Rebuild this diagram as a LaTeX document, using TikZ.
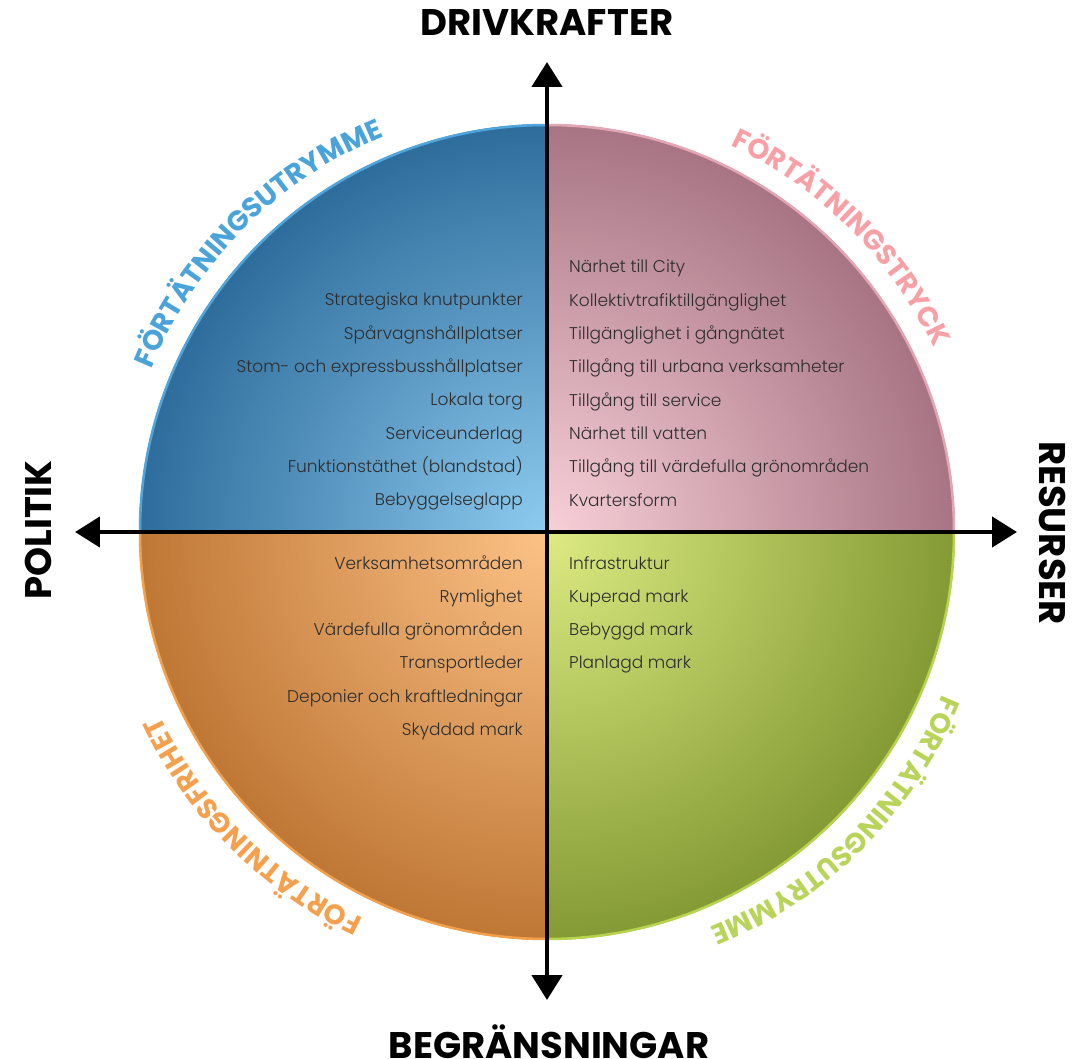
\documentclass[tikz,border=0pt]{standalone}
\usepackage{fontspec}
\setmainfont{Poppins Light}
\newfontfamily\headfont{Poppins Bold}
\usetikzlibrary{arrows.meta,positioning,decorations.text}

% quadrant colours: inner / outer / rim / label
\definecolor{bluein}{HTML}{8DCBEF}
\definecolor{blueout}{HTML}{2E6C9C}
\definecolor{bluerim}{HTML}{4FA6DC}
\definecolor{bluetxt}{HTML}{4AA3D9}
\definecolor{pinkin}{HTML}{F8D0D8}
\definecolor{pinkout}{HTML}{A77483}
\definecolor{pinkrim}{HTML}{E4A5B4}
\definecolor{pinktxt}{HTML}{F7A0A6}
\definecolor{orangein}{HTML}{FCC286}
\definecolor{orangeout}{HTML}{BF7735}
\definecolor{orangerim}{HTML}{F4A04A}
\definecolor{orangetxt}{HTML}{F5A04E}
\definecolor{greenin}{HTML}{DCEB82}
\definecolor{greenout}{HTML}{849A34}
\definecolor{greenrim}{HTML}{B8D34E}
\definecolor{greentxt}{HTML}{B9D45A}

\begin{document}
\begin{tikzpicture}[x=1pt,y=1pt]
 \tikzset{item left/.style={anchor=east, inner sep=0pt, text=black!82,
 		text height=12pt, text depth=4pt, font=\fontsize{17}{20}\selectfont}, }
 \tikzset{item right/.style={item left, anchor=west}, }
 \tikzset{head node/.style={inner sep=0pt, font=\headfont\fontsize{37}{37}\selectfont}, }
 \tikzset{arc label/.style={decoration={text along path, text align=center,
 		text={#1}}, decorate}, }
 \tikzset{linea/.style={line width=4.5pt,
 		{Triangle[width=30pt,length=25pt]}-{Triangle[width=30pt,length=25pt]}}, }
 \useasboundingbox (-547,-526) rectangle (539,532);

 % shaded quarters of the circle
 \foreach \a/\x in {90/blue,0/pink,180/orange,270/green}
 {
  \begin{scope}
   \clip (0,0) -- (\a:408) arc[start angle=\a, delta angle=90, radius=408] -- cycle;
   \shade[inner color=\x in, outer color=\x out] (0,0) circle (408);
  \end{scope}
  \draw[\x rim, line width=2.5pt] (\a:407) arc[start angle=\a, delta angle=90, radius=407];
 }

 % labels round the rim
 \path[arc label={|\headfont\fontsize{28}{28}\selectfont\color{bluetxt}|FÖRTÄTNINGSUTRYMME}]
   (195:428) arc[start angle=195, end angle=75, radius=428];
 \path[arc label={|\headfont\fontsize{28}{28}\selectfont\color{pinktxt}|FÖRTÄTNINGSTRYCK}]
   (105:428) arc[start angle=105, end angle=-15, radius=428];
 \path[arc label={|\headfont\fontsize{28}{28}\selectfont\color{greentxt}|FÖRTÄTNINGSUTRYMME}]
   (15:428) arc[start angle=15, end angle=-105, radius=428];
 \path[arc label={|\headfont\fontsize{28}{28}\selectfont\color{orangetxt}|FÖRTÄTNINGSFRIHET}]
   (285:428) arc[start angle=285, end angle=165, radius=428];

 % axes
 \node[head node] (drive) at (0,509) {DRIVKRAFTER};
 \node[head node] (limit) at (2,-510) {BEGRÄNSNINGAR};
 \node[head node, rotate=90] (policy) at (-509,2) {POLITIK};
 \node[head node, rotate=-90] (assets) at (506,-1) {RESURSER};
 \coordinate (up) at (0,470);
 \coordinate (down) at (0,-468);
 \coordinate (left) at (-472,0);
 \coordinate (right) at (470,0);
 \draw[linea] (down) -- (up);
 \draw[linea] (left) -- (right);

 % factors in each quarter
 \foreach \y/\t in {0/Strategiska knutpunkter, 1/Spårvagnshållplatser,
   2/Stom- och expressbusshållplatser, 3/Lokala torg, 4/Serviceunderlag,
   5/Funktionstäthet (blandstad), 6/Bebyggelseglapp}
  \node[item left] (pol\y) at (-24,230-33.3*\y) {\t};
 \foreach \y/\t in {0/Närhet till City, 1/Kollektivtrafiktillgänglighet,
   2/Tillgänglighet i gångnätet, 3/Tillgång till urbana verksamheter,
   4/Tillgång till service, 5/Närhet till vatten,
   6/Tillgång till värdefulla grönområden, 7/Kvartersform}
  \node[item right] (drv\y) at (22,263-33.3*\y) {\t};
 \foreach \y/\t in {0/Verksamhetsområden, 1/Rymlighet, 2/Värdefulla grönområden,
   3/Transportleder, 4/Deponier och kraftledningar, 5/Skyddad mark}
  \node[item left] (lim\y) at (-24,-33-33.3*\y) {\t};
 \foreach \y/\t in {0/Infrastruktur, 1/Kuperad mark, 2/Bebyggd mark, 3/Planlagd mark}
  \node[item right] (res\y) at (22,-33-33.3*\y) {\t};
%
\end{tikzpicture}
\end{document}
